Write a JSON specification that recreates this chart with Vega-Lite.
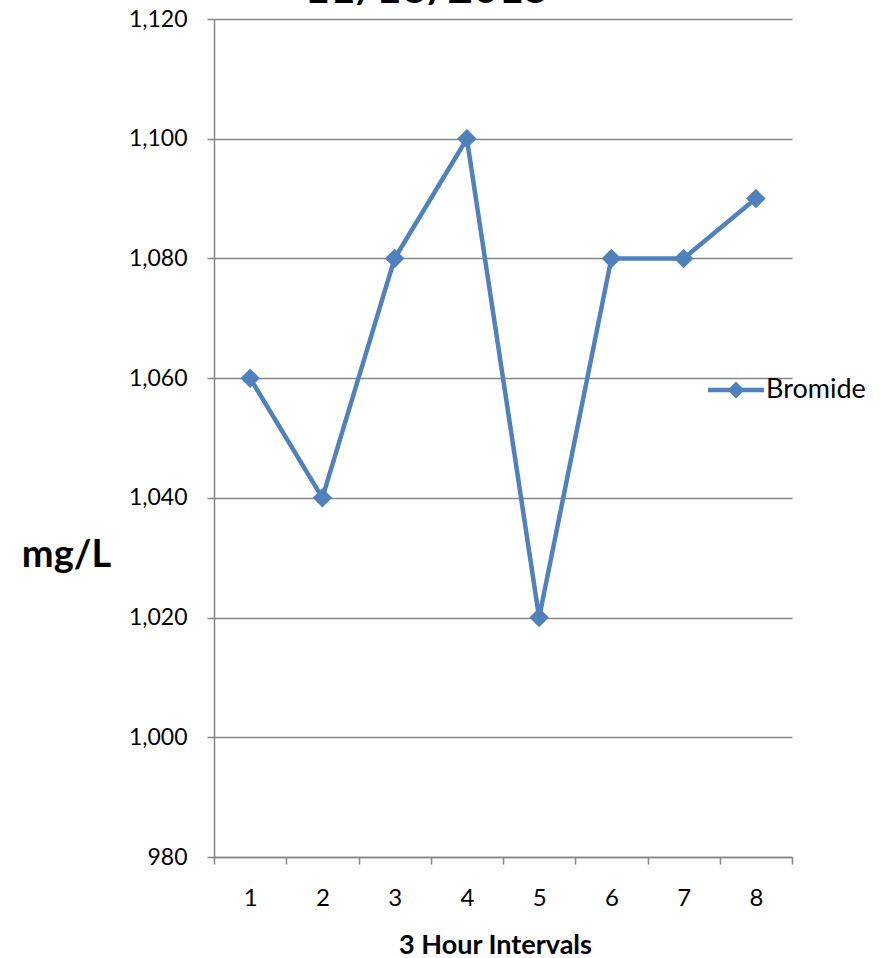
{
  "$schema": "https://vega.github.io/schema/vega-lite/v6.json",
  "autosize": "none",
  "width": 578,
  "height": 838,
  "padding": {"left": 214, "top": 19, "right": 94, "bottom": 101},
  "background": "white",
  "title": {
    "text": "11/16/2015",
    "fontSize": 44,
    "font": "Lato",
    "fontWeight": "bold",
    "color": "#000000",
    "anchor": "middle",
    "dx": -76,
    "dy": 8
  },
  "data": {
    "values": [
      {"interval": "1", "mg": 1060, "series": "Bromide"},
      {"interval": "2", "mg": 1040, "series": "Bromide"},
      {"interval": "3", "mg": 1080, "series": "Bromide"},
      {"interval": "4", "mg": 1100, "series": "Bromide"},
      {"interval": "5", "mg": 1020, "series": "Bromide"},
      {"interval": "6", "mg": 1080, "series": "Bromide"},
      {"interval": "7", "mg": 1080, "series": "Bromide"},
      {"interval": "8", "mg": 1090, "series": "Bromide"}
    ]
  },
  "mark": {
    "type": "line",
    "strokeWidth": 4.5,
    "point": {"filled": true, "shape": "diamond", "size": 380, "opacity": 1}
  },
  "encoding": {
    "x": {
      "field": "interval",
      "type": "ordinal",
      "scale": {"type": "band", "paddingInner": 0, "paddingOuter": 0},
      "axis": {
        "title": "3 Hour Intervals",
        "titleFontSize": 27,
        "titleFont": "Lato",
        "titleFontWeight": "bold",
        "titleColor": "#000000",
        "titleX": 281,
        "titleY": 88,
        "titleBaseline": "middle",
        "labelAngle": 0,
        "labelFontSize": 24,
        "labelFont": "Lato",
        "labelColor": "#000000",
        "labelPadding": 22,
        "tickBand": "extent",
        "tickSize": 7,
        "tickColor": "#868686",
        "tickWidth": 1.5,
        "domainColor": "#868686",
        "domainWidth": 1.5,
        "grid": false
      }
    },
    "y": {
      "field": "mg",
      "type": "quantitative",
      "scale": {"domain": [980, 1120], "nice": false, "zero": false},
      "axis": {
        "values": [980, 1000, 1020, 1040, 1060, 1080, 1100, 1120],
        "format": ",.0f",
        "title": "mg/L",
        "titleAngle": 0,
        "titleFontSize": 38,
        "titleFont": "Lato",
        "titleFontWeight": "bold",
        "titleColor": "#000000",
        "titleX": -148,
        "titleY": 536,
        "titleAlign": "center",
        "titleBaseline": "middle",
        "labelFontSize": 23,
        "labelFont": "Lato",
        "labelColor": "#000000",
        "labelPadding": 20,
        "tickSize": 7,
        "tickColor": "#868686",
        "tickWidth": 1.5,
        "domainColor": "#868686",
        "domainWidth": 1.5,
        "grid": true,
        "gridColor": "#868686",
        "gridWidth": 1.5
      }
    },
    "color": {
      "field": "series",
      "type": "nominal",
      "scale": {"range": ["#4F81BD"]},
      "legend": {
        "title": null,
        "orient": "none",
        "legendX": 494,
        "legendY": 343,
        "labelFontSize": 27,
        "labelFont": "Lato",
        "labelColor": "#000000",
        "labelOffset": 2,
        "symbolType": "M-1,-0.08L-0.22,-0.08L0,-0.3L0.22,-0.08L1,-0.08L1,0.08L0.22,0.08L0,0.3L-0.22,0.08L-1,0.08Z",
        "symbolSize": 3136,
        "symbolStrokeWidth": 0,
        "symbolFillColor": "#4F81BD",
        "encode": {
          "symbols": {"update": {"fill": {"value": "#4F81BD"}, "stroke": {"value": "#4F81BD"}, "strokeWidth": {"value": 0}, "opacity": {"value": 1}}}
        }
      }
    }
  },
  "config": {"view": {"stroke": null}}
}
